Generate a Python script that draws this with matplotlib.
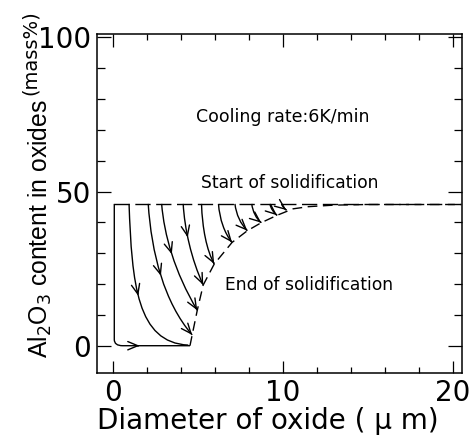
import numpy as np
import matplotlib
matplotlib.use("Agg")
import matplotlib.pyplot as plt
from matplotlib.path import Path
from matplotlib.patches import PathPatch
from matplotlib.ticker import MultipleLocator

plt.rcParams["font.family"] = ["DejaVu Sans"]

# Start of solidification (mass% Al2O3) and its extent
start_level = 46.0
start_x = [0.06, 20.5]

# End of solidification boundary
end_x = [4.52, 4.65, 4.95, 5.30, 5.95, 7.00, 7.90, 8.72, 9.65, 10.6, 11.5, 13.0, 15.0, 20.5]
end_y = [0.0, 3.5, 11.5, 19.7, 26.5, 33.5, 37.3, 39.9, 42.3, 44.4, 45.1, 45.6, 45.8, 45.8]

# Smallest oxide: drops straight down, then runs along 0 %
corner_x = [0.06, 0.06, 0.06, 0.55, 4.52]
corner_y = [46.0, 2.0, 0.0, 0.0, 0.0]
corner_arrow_x = 1.55

# Composition paths during cooling (cubic Bezier: start, two handles, end)
p0_x = [0.93, 2.06, 2.85, 4.12, 5.20, 6.20, 7.17, 8.16, 9.23, 9.92]
p1_x = [1.10, 2.25, 3.00, 4.20, 5.25, 6.27, 7.25, 8.22, 9.28, 9.96]
p1_y = [20.0, 30.0, 36.0, 38.0, 38.0, 41.0, 42.5, 43.5, 44.5, 45.2]
p2_x = [1.40, 3.00, 3.60, 4.60, 5.50, 6.55, 7.50, 8.42, 9.45, 10.08]
p2_y = [1.0, 14.0, 24.0, 28.0, 31.0, 36.5, 39.5, 41.2, 43.2, 44.5]
p3_x = [4.42, 4.65, 4.95, 5.30, 5.95, 7.00, 7.90, 8.72, 9.65, 10.20]
p3_y = [0.2, 3.5, 11.5, 19.7, 26.5, 33.5, 37.3, 39.9, 42.3, 44.0]

# Arrowheads along the paths: (path index, curve parameter)
arrow_marks = [(0, 0.45), (1, 0.50), (2, 0.50), (3, 0.42),
               (1, 1.0), (2, 1.0), (3, 1.0), (4, 1.0), (5, 1.0),
               (6, 1.0), (7, 1.0), (8, 1.0), (9, 1.0)]

fig = plt.figure(figsize=(4.73, 4.36), dpi=100)
ax = fig.add_axes([0.2061, 0.1445, 0.7696, 0.7775])
ax.set_xlim(-0.93, 20.52)
ax.set_ylim(-8.85, 101.1)

lw = 1.0
ax.plot(start_x, [start_level, start_level], color="black", lw=lw,
        dashes=(11, 4))
ax.plot(end_x, end_y, color="black", lw=lw, dashes=(7, 4))

corner_path = Path(list(zip(corner_x, corner_y)),
                   [Path.MOVETO, Path.LINETO, Path.CURVE3, Path.CURVE3, Path.LINETO])
ax.add_patch(PathPatch(corner_path, fill=False, edgecolor="black", lw=lw))

arrow_style = dict(arrowstyle="->,head_length=0.6,head_width=0.25",
                   color="black", lw=lw, shrinkA=0, shrinkB=0,
                   mutation_scale=12)
ax.annotate("", xy=(corner_arrow_x, 0.0), xytext=(corner_arrow_x - 0.1, 0.0),
            arrowprops=arrow_style)


def bezier(i, t):
    a = (1 - t) ** 3
    b = 3 * (1 - t) ** 2 * t
    c = 3 * (1 - t) * t ** 2
    d = t ** 3
    x = a * p0_x[i] + b * p1_x[i] + c * p2_x[i] + d * p3_x[i]
    y = a * start_level + b * p1_y[i] + c * p2_y[i] + d * p3_y[i]
    return x, y


for i in range(len(p0_x)):
    verts = [(p0_x[i], start_level), (p1_x[i], p1_y[i]),
             (p2_x[i], p2_y[i]), (p3_x[i], p3_y[i])]
    path = Path(verts, [Path.MOVETO, Path.CURVE4, Path.CURVE4, Path.CURVE4])
    ax.add_patch(PathPatch(path, fill=False, edgecolor="black", lw=lw))

for i, t in arrow_marks:
    tip = bezier(i, t)
    tail = bezier(i, t - 0.03)
    ax.annotate("", xy=tip, xytext=tail, arrowprops=arrow_style)

ax.text(10.0, 72.5, "Cooling rate:6K/min", fontsize=12.5, ha="center", va="baseline")
ax.text(10.4, 51.1, "Start of solidification", fontsize=12.3, ha="center", va="baseline")
ax.text(11.53, 18.1, "End of solidification", fontsize=12.3, ha="center", va="baseline")

ax.set_xticks([0, 10, 20])
ax.set_yticks([0, 50, 100])
ax.xaxis.set_minor_locator(MultipleLocator(2))
ax.yaxis.set_minor_locator(MultipleLocator(10))
ax.tick_params(axis="both", which="both", direction="in", top=True, right=True,
               width=0.9, labelsize=20)
ax.tick_params(axis="x", which="major", length=9, pad=4)
ax.tick_params(axis="x", which="minor", length=4)
ax.tick_params(axis="y", which="major", length=10, pad=4.5)
ax.tick_params(axis="y", which="minor", length=6)
for s in ax.spines.values():
    s.set_linewidth(1.1)

ax.set_xlabel("Diameter of oxide ( \u03bc m)", fontsize=20, labelpad=0)
ax.xaxis.label.set_x(0.467)

fig.text(48 / 473, 1 - 358 / 436, "Al$_2$O$_3$ content in oxides", fontsize=17.8,
         family=["Liberation Sans", "DejaVu Sans"],
         rotation=90, rotation_mode="anchor", ha="left", va="baseline")
fig.text(36 / 473, 1 - 95 / 436, "(mass%)", fontsize=14,
         rotation=90, rotation_mode="anchor", ha="left", va="baseline")

fig.savefig("out.png", dpi=100)
